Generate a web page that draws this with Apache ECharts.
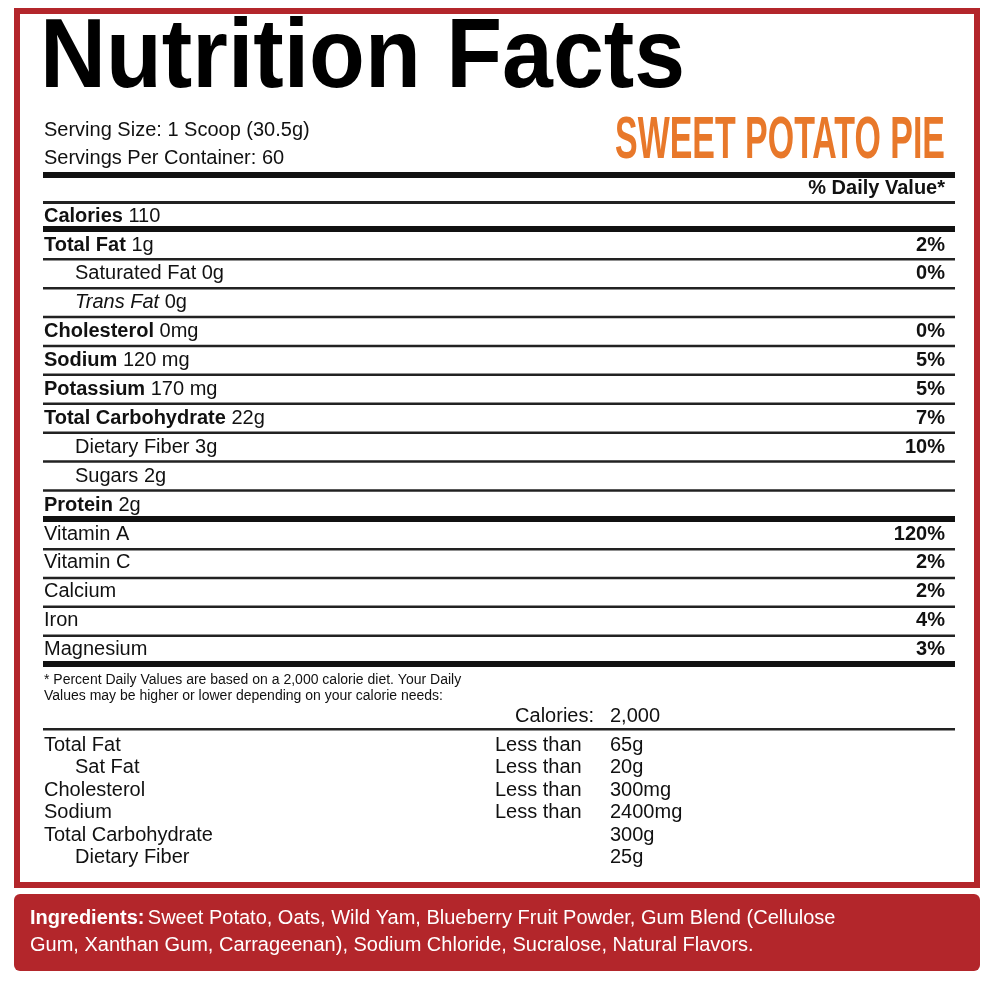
<!DOCTYPE html>
<html><head><meta charset="utf-8">
<script src="https://cdn.jsdelivr.net/npm/echarts@6/dist/echarts.min.js"></script>
<style>html,body{margin:0;padding:0;background:#fff}#c{width:994px;height:981px}</style>
</head><body><div id="c"></div>
<script>
const title = "Nutrition Facts";
const flavor = "SWEET POTATO PIE";
const servingLines = ["Serving Size: 1 Scoop (30.5g)", "Servings Per Container: 60"];
// [bold label, amount, daily value, indent, italicLabel]
const nutrients = [
  ["Total Fat", "1g", "2%", 0, ""],
  ["", "Saturated Fat 0g", "0%", 1, ""],
  ["", "0g", "", 1, "Trans Fat"],
  ["Cholesterol", "0mg", "0%", 0, ""],
  ["Sodium", "120 mg", "5%", 0, ""],
  ["Potassium", "170 mg", "5%", 0, ""],
  ["Total Carbohydrate", "22g", "7%", 0, ""],
  ["", "Dietary Fiber 3g", "10%", 1, ""],
  ["", "Sugars 2g", "", 1, ""],
  ["Protein", "2g", "", 0, ""]
];
const vitamins = ["Vitamin A", "Vitamin C", "Calcium", "Iron", "Magnesium"];
const vitaminDV = ["120%", "2%", "2%", "4%", "3%"];
const footnote = ["* Percent Daily Values are based on a 2,000 calorie diet. Your Daily",
                  "Values may be higher or lower depending on your calorie needs:"];
const refNames = ["Total Fat", "Sat Fat", "Cholesterol", "Sodium", "Total Carbohydrate", "Dietary Fiber"];
const refIndent = [0, 1, 0, 0, 0, 1];
const refQual = ["Less than", "Less than", "Less than", "Less than", "", ""];
const refVals = ["65g", "20g", "300mg", "2400mg", "300g", "25g"];
const ingredients = ["Sweet Potato, Oats, Wild Yam, Blueberry Fruit Powder, Gum Blend (Cellulose",
                     "Gum, Xanthan Gum, Carrageenan), Sodium Chloride, Sucralose, Natural Flavors."];

const F = "'Liberation Sans', Arial, sans-serif";
const RED = "#b3262b";
const L = 43, R = 955, TX = 44, IX = 75, RX = 945;
const cv = document.createElement('canvas').getContext('2d');
function fit(text, font, w) { cv.font = font; return w / cv.measureText(text).width; }
const g = [];
function rect(x, y, w, h, fill) { g.push({type:'rect', shape:{x, y, width:w, height:h}, style:{fill}}); }
function txt(x, y, text, opts, sx) {
  g.push({type:'text', x, y, scaleX:sx||1, style:Object.assign({text, font:'20px ' + F, fill:'#111', textVerticalAlign:'middle'}, opts||{})});
}
function rich(x, y, parts) {
  let s = parts.map(p => '{' + p[1] + '|' + p[0] + '}').join('');
  g.push({type:'text', x, y, style:{text:s, textVerticalAlign:'middle', rich:{
    b:{font:'bold 20px ' + F, fill:'#111'}, n:{font:'20px ' + F, fill:'#111'}, i:{font:'italic 20px ' + F, fill:'#111'}}}});
}
g.push({type:'rect', shape:{x:17, y:11, width:960, height:874}, style:{fill:'#fff', stroke:RED, lineWidth:6}});
g.push({type:'rect', shape:{x:14, y:894, width:966, height:77, r:6}, style:{fill:RED}});
const tFont = 'bold 98px ' + F;
txt(40, 60, title, {font:tFont, fill:'#000'}, fit(title, tFont, 645));
txt(44, 130, servingLines[0]);
txt(44, 158, servingLines[1]);
const fFont = 'bold 60px ' + F;
txt(615, 141, flavor, {font:fFont, fill:'#e8782a'}, fit(flavor, fFont, 330));
rect(L, 172, R-L, 6, '#111');
txt(RX, 188, '% Daily Value*', {font:'bold 20px ' + F, textAlign:'right'});
rect(L, 201, R-L, 3, '#222');
rich(TX, 216, [['Calories', 'b'], [' 110', 'n']]);
rect(L, 226, R-L, 6, '#111');
const y0 = 245, dy = 28.9;
nutrients.forEach((n, i) => {
  const y = y0 + i * dy;
  const x = n[3] ? IX : TX;
  const parts = [];
  if (n[4]) parts.push([n[4], 'i']);
  if (n[0]) parts.push([n[0], 'b']);
  parts.push([(n[0] || n[4] ? ' ' : '') + n[1], 'n']);
  rich(x, y, parts);
  if (n[2]) txt(RX, y, n[2], {font:'bold 20px ' + F, textAlign:'right'});
  if (i < nutrients.length - 1) rect(L, y + 13, R-L, 2.5, '#222');
});
rect(L, 516, R-L, 6, '#111');
vitamins.forEach((v, i) => {
  const y = 534 + i * 28.8;
  txt(TX, y, v);
  txt(RX, y, vitaminDV[i], {font:'bold 20px ' + F, textAlign:'right'});
  if (i < vitamins.length - 1) rect(L, y + 14, R-L, 2.5, '#222');
});
rect(L, 661, R-L, 6, '#111');
txt(44, 680, footnote[0], {font:'14px ' + F});
txt(44, 696, footnote[1], {font:'14px ' + F});
txt(594, 716, 'Calories:', {textAlign:'right'});
txt(610, 716, '2,000');
rect(L, 728, R-L, 2.5, '#222');
refNames.forEach((n, i) => {
  const y = 745 + i * 22.5;
  txt(refIndent[i] ? IX : TX, y, n);
  if (refQual[i]) txt(495, y, refQual[i]);
  txt(610, y, refVals[i]);
});
g.push({type:'text', x:30, y:918, style:{text:'{b|Ingredients:} {n|' + ingredients[0] + '}', textVerticalAlign:'middle',
  rich:{b:{font:'bold 20px ' + F, fill:'#fff'}, n:{font:'20px ' + F, fill:'#fff'}}}});
txt(30, 945, ingredients[1], {fill:'#fff'});

const chart = echarts.init(document.getElementById('c'));
chart.setOption({animation:false, graphic:{elements:g}});
</script></body></html>
